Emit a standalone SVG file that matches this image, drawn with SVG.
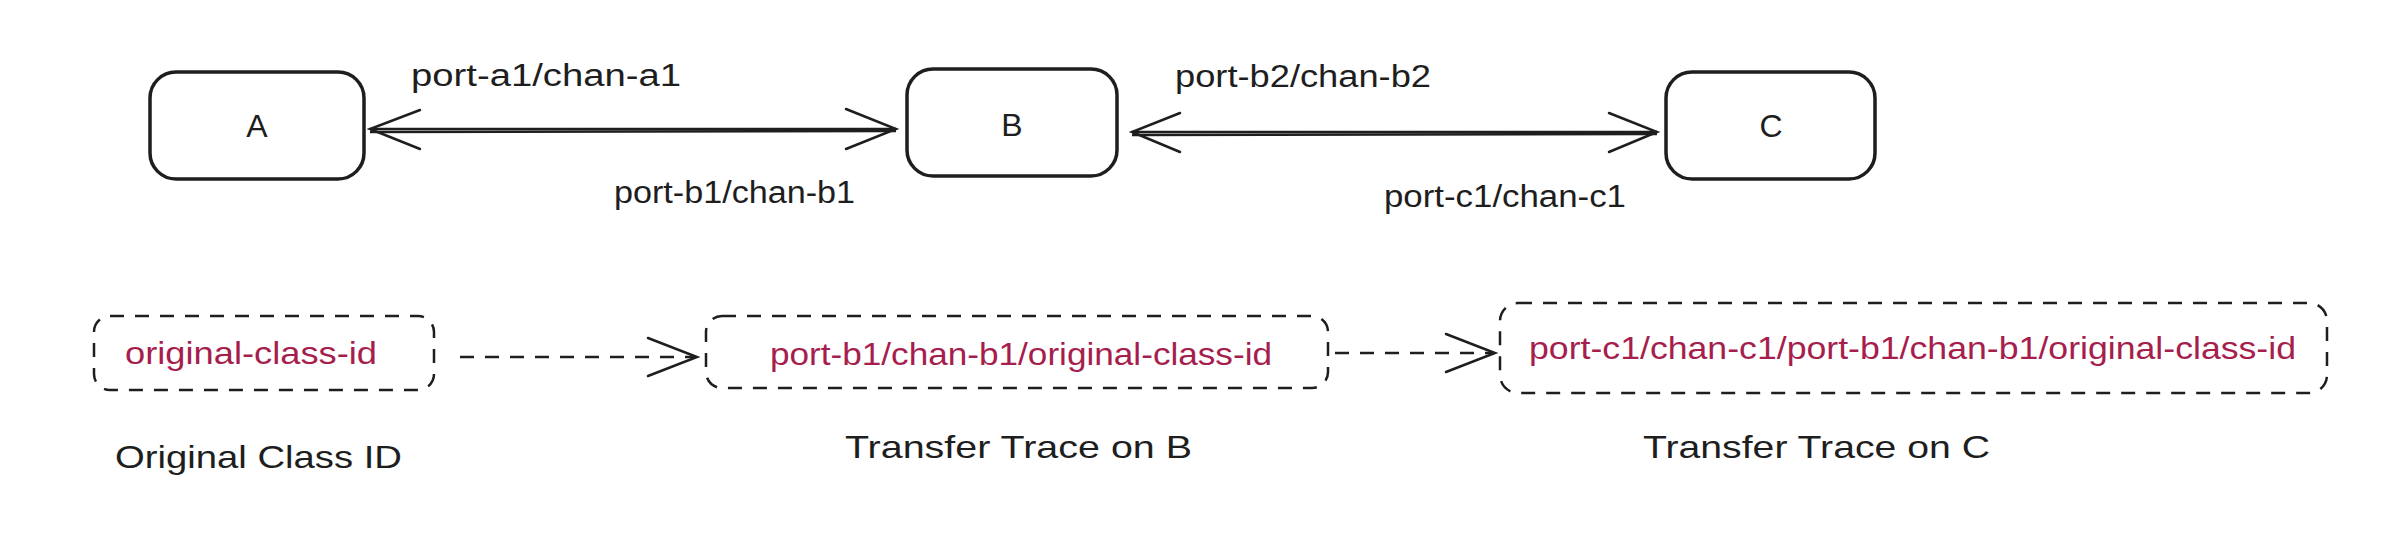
<svg xmlns="http://www.w3.org/2000/svg" width="2405" height="533" viewBox="0 0 2405 533">
<defs>
<style>
.node{fill:#fff;stroke:#1e1e1e;stroke-width:3.5}
.dnode{fill:none;stroke:#1e1e1e;stroke-width:2.5;stroke-dasharray:14 11}
.t{font-family:"Liberation Sans",sans-serif;font-size:31px;fill:#1e1e1e}
.big{font-size:32px}
.r{fill:#a61e4d;font-size:32px}
.edge{fill:none;stroke:#1e1e1e;stroke-width:2.5}
.dedge{fill:none;stroke:#1e1e1e;stroke-width:2.5;stroke-dasharray:14 11}
.head{fill:none;stroke:#1e1e1e;stroke-width:2.5;stroke-linecap:round}
</style>
</defs>
<rect width="2405" height="533" fill="#fff"/>
<g id="nodeA"><rect class="node" x="150" y="72" width="214" height="107" rx="26"/><text class="t big" x="257" y="137" text-anchor="middle">A</text></g>
<g id="nodeB"><rect class="node" x="907" y="69" width="210" height="107" rx="26"/><text class="t big" x="1012" y="136" text-anchor="middle">B</text></g>
<g id="nodeC"><rect class="node" x="1666" y="72" width="209" height="107" rx="26"/><text class="t big" x="1771" y="137" text-anchor="middle">C</text></g>
<g id="trace0"><rect class="dnode" x="94" y="316" width="340" height="74" rx="16"/><text class="t r" x="125" y="364" textLength="252" lengthAdjust="spacingAndGlyphs">original-class-id</text></g>
<g id="traceB"><rect class="dnode" x="706" y="316" width="622" height="72" rx="16"/><text class="t r" x="770" y="365" textLength="502" lengthAdjust="spacingAndGlyphs">port-b1/chan-b1/original-class-id</text></g>
<g id="traceC"><rect class="dnode" x="1500" y="303" width="827" height="90" rx="18"/><text class="t r" x="1529" y="359" textLength="767" lengthAdjust="spacingAndGlyphs">port-c1/chan-c1/port-b1/chan-b1/original-class-id</text></g>
<g id="connectors">
<line class="edge" x1="370" y1="129" x2="896" y2="129"/>
<line class="edge" x1="370" y1="132" x2="896" y2="131" stroke-width="1.5"/>
<path class="head" d="M420 110 L370 129 L420 149"/>
<path class="head" d="M846 109 L896 129 L846 149"/>
<line class="edge" x1="1132" y1="132" x2="1657" y2="132"/>
<line class="edge" x1="1132" y1="135" x2="1657" y2="134" stroke-width="1.5"/>
<path class="head" d="M1180 113 L1132 132 L1180 152"/>
<path class="head" d="M1609 113 L1657 132 L1609 152"/>
<line class="dedge" x1="460" y1="357" x2="696" y2="357"/>
<path class="head" d="M648 338 L697 357 L648 376"/>
<line class="dedge" x1="1335" y1="353" x2="1494" y2="353"/>
<path class="head" d="M1446 334 L1495 353 L1446 372"/>
</g>
<g id="labels">
<text class="t" x="411" y="86" textLength="270" lengthAdjust="spacingAndGlyphs">port-a1/chan-a1</text>
<text class="t" x="614" y="203" textLength="241" lengthAdjust="spacingAndGlyphs">port-b1/chan-b1</text>
<text class="t" x="1175" y="87" textLength="256" lengthAdjust="spacingAndGlyphs">port-b2/chan-b2</text>
<text class="t" x="1384" y="207" textLength="242" lengthAdjust="spacingAndGlyphs">port-c1/chan-c1</text>
<text class="t big" x="115" y="468" textLength="287" lengthAdjust="spacingAndGlyphs">Original Class ID</text>
<text class="t big" x="845" y="458" textLength="347" lengthAdjust="spacingAndGlyphs">Transfer Trace on B</text>
<text class="t big" x="1643" y="458" textLength="347" lengthAdjust="spacingAndGlyphs">Transfer Trace on C</text>
</g>
</svg>
